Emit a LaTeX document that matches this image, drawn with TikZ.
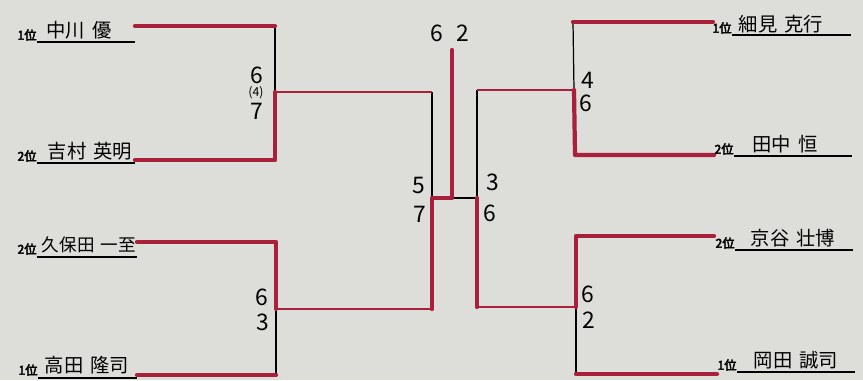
\documentclass[tikz,border=0pt]{standalone}
\usepackage{fontspec}
\newfontfamily\jp{Noto Sans CJK JP}
\newfontfamily\jpbold{Noto Sans CJK JP}[FakeBold=3.5]
\definecolor{paper}{RGB}{221,221,217}
\definecolor{marker}{RGB}{168,32,58}
\tikzset{
  win/.style={draw=marker, line width=2.4pt, line cap=round, line join=round},
  winthin/.style={draw=marker, line width=1.4pt},
  lose/.style={draw=black, line width=0.7pt},
  uline/.style={draw=black, line width=1.1pt},
  pname/.style={font=\jp\fontsize{11}{11}\selectfont, anchor=base, inner sep=0pt},
  rank/.style={font=\jpbold\fontsize{7}{7}\selectfont, inner sep=0pt, anchor=south east},
  score/.style={font=\jp\fontsize{13}{13}\selectfont, inner sep=0pt},
}
\newcommand{\gap}{\hspace{0.35em}}
\begin{document}
\begin{tikzpicture}[x=0.2mm, y=-0.2mm]
  \fill[paper] (0,0) rectangle (863,380);
  \useasboundingbox (0,0) rectangle (863,380);

  % corners of the bracket
  \coordinate (L1) at (135,26);  \coordinate (L1c) at (275,26);
  \coordinate (LA) at (275,92);
  \coordinate (L2) at (135,160); \coordinate (L2c) at (275,160);
  \coordinate (L3) at (137,242); \coordinate (L3c) at (276,242);
  \coordinate (LB) at (276,309);
  \coordinate (L4) at (137,375); \coordinate (L4c) at (276,375);
  \coordinate (LAc) at (432,92); \coordinate (LBc) at (432,309);
  \coordinate (SL) at (432,198); \coordinate (F) at (452,198);
  \coordinate (top) at (452,50); \coordinate (SR) at (477,198);
  \coordinate (RAc) at (477,90); \coordinate (RBc) at (477,307);
  \coordinate (RA) at (574,90);  \coordinate (RB) at (576,307);
  \coordinate (R1c) at (573,22); \coordinate (R1) at (713,22);
  \coordinate (R2c) at (575,155); \coordinate (R2) at (714,155);
  \coordinate (R3c) at (576,236); \coordinate (R3) at (714,236);
  \coordinate (R4c) at (576,374); \coordinate (R4) at (717,374);

  % losing paths (black)
  \draw[lose] (L1c) -- (LA);
  \draw[lose] (LB) -- (L4c);
  \draw[lose] (LAc) -- (SL);
  \draw[lose] (F) -- (SR);
  \draw[lose] (RAc) -- (SR);
  \draw[lose] (R1c) -- (RA);
  \draw[lose] (RB) -- (R4c);

  % winning paths (red marker)
  \draw[win] (L1) -- (L1c);
  \draw[win] (LA) -- (L2c) -- (L2);
  \draw[win] (L3) -- (L3c) -- (LB);
  \draw[win] (L4c) -- (L4);
  \draw[winthin] (LA) -- (LAc);
  \draw[winthin] (LB) -- (LBc);
  \draw[win] (LBc) -- (SL) -- (F) -- (top);
  \draw[winthin] (RAc) -- (RA);
  \draw[win] (SR) -- (RBc);
  \draw[winthin] (RBc) -- (RB);
  \draw[win] (R1c) -- (R1);
  \draw[win] (RA) -- (R2c) -- (R2);
  \draw[win] (R3) -- (R3c) -- (RB);
  \draw[win] (R4c) -- (R4);

  % players, left
  \node[rank] (r1) at (37,41) {1位};
  \draw[uline] (37,42) -- (135,42);
  \node[pname] (n1) at (79,37) {中川\gap 優};
  \node[rank] (r2) at (37,162) {2位};
  \draw[uline] (37,163) -- (135,163);
  \node[pname] (n2) at (90,158) {吉村\gap 英明};
  \node[rank] (r3) at (37,255) {2位};
  \draw[uline] (37,257) -- (137,257);
  \node[pname, font=\jp\fontsize{10}{10}\selectfont] (n3) at (89,251) {久保田\gap 一至};
  \node[rank] (r4) at (38,376) {1位};
  \draw[uline] (38,378) -- (137,378);
  \node[pname] (n4) at (87,372) {高田\gap 隆司};

  % players, right
  \node[rank] (r5) at (732,34) {1位};
  \draw[uline] (732,35) -- (851,35);
  \node[pname] (n5) at (781,31) {細見\gap 克行};
  \node[rank] (r6) at (734,155) {2位};
  \draw[uline] (734,156) -- (852,156);
  \node[pname] (n6) at (785,151) {田中\gap 恒};
  \node[rank] (r7) at (735,249) {2位};
  \draw[uline] (735,250) -- (853,250);
  \node[pname] (n7) at (793,245) {京谷\gap 壮博};
  \node[rank] (r8) at (737,371) {1位};
  \draw[uline] (737,372) -- (855,372);
  \node[pname] (n8) at (796,367) {岡田\gap 誠司};

  % scores
  \node[score] (s1) at (257,75) {6};
  \node[score, font=\jp\fontsize{7}{7}\selectfont] (s1t) at (256,93) {(4)};
  \node[score] (s2) at (257,111) {7};
  \node[score] (s3) at (262,297) {6};
  \node[score] (s4) at (263,322) {3};
  \node[score] (s5) at (419,186) {5};
  \node[score] (s6) at (420,214) {7};
  \node[score] (s7) at (493,182) {3};
  \node[score] (s8) at (490,213) {6};
  \node[score] (f1) at (437,33) {6};
  \node[score] (f2) at (463,33) {2};
  \node[score] (s9) at (588,80) {4};
  \node[score] (s10) at (586,103) {6};
  \node[score] (s11) at (588,294) {6};
  \node[score] (s12) at (589,320) {2};
\end{tikzpicture}
\end{document}
